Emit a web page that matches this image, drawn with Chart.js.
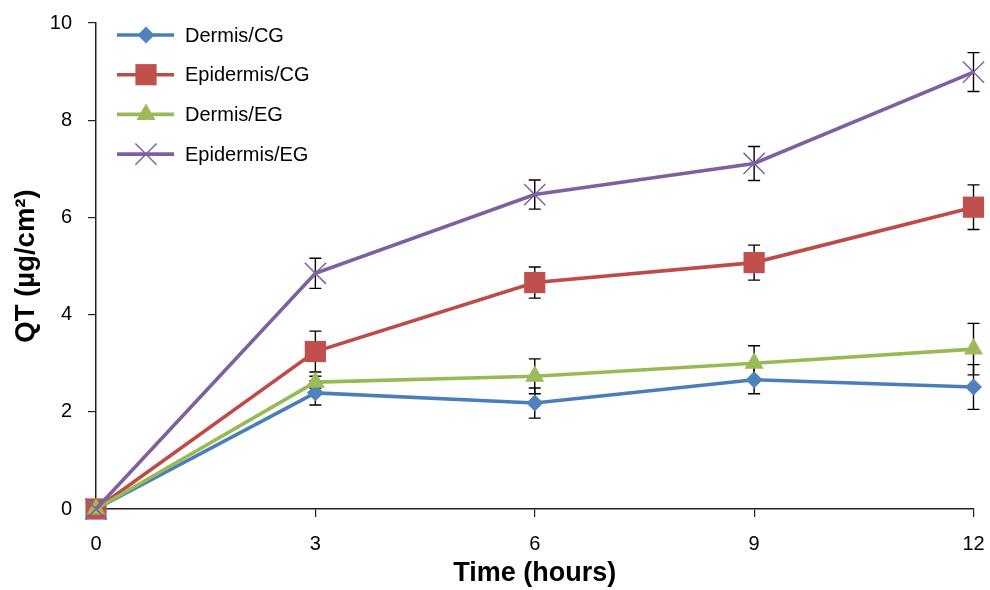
<!DOCTYPE html>
<html>
<head>
<meta charset="utf-8">
<script src="https://cdn.jsdelivr.net/npm/chart.js@4.4.1/dist/chart.umd.min.js"></script>
<style>
  html, body { margin: 0; padding: 0; background: #ffffff; }
  #wrap { width: 990px; height: 590px; position: relative; }
</style>
</head>
<body>
<div id="wrap"><canvas id="c" width="990" height="590"></canvas></div>
<script>
const times = [0, 3, 6, 9, 12];
const seriesLabels = ["Dermis/CG", "Epidermis/CG", "Dermis/EG", "Epidermis/EG"];
const dermisCG = [0, 2.39, 2.18, 2.66, 2.51];
const dermisCGErr = [0, 0.25, 0.31, 0.29, 0.46];
const epidermisCG = [0, 3.24, 4.66, 5.07, 6.21];
const epidermisCGErr = [0, 0.42, 0.32, 0.36, 0.46];
const dermisEG = [0, 2.61, 2.73, 3.00, 3.29];
const dermisEGErr = [0, 0.12, 0.36, 0.36, 0.53];
const epidermisEG = [0, 4.85, 6.47, 7.11, 8.99];
const epidermisEGErr = [0, 0.31, 0.30, 0.35, 0.40];
const xTitle = "Time (hours)";
const yTitle = "QT (µg/cm²)";

const FONT = "'Liberation Sans', Arial, sans-serif";

function pts(vals) { return times.map((t, i) => ({ x: t, y: vals[i] })); }

const errs = [dermisCGErr, epidermisCGErr, dermisEGErr, epidermisEGErr];

const datasets = [
  { label: seriesLabels[0], data: pts(dermisCG), borderColor: '#4A7EBB', backgroundColor: '#4F81BD',
    pointStyle: 'rectRot', pointRadius: 8.5, pointBorderWidth: 0, pointBackgroundColor: '#4F81BD', order: 4 },
  { label: seriesLabels[1], data: pts(epidermisCG), borderColor: '#BE4B48', backgroundColor: '#C0504D',
    pointStyle: 'rect', pointRadius: 15, pointBorderWidth: 0, pointBackgroundColor: '#C0504D', order: 3 },
  { label: seriesLabels[2], data: pts(dermisEG), borderColor: '#98B954', backgroundColor: '#9BBB59',
    pointStyle: 'triangle', pointRadius: 11, pointBorderWidth: 0, pointBackgroundColor: '#9BBB59', order: 2 },
  { label: seriesLabels[3], data: pts(epidermisEG), borderColor: '#7D60A0', backgroundColor: '#8064A2',
    pointStyle: 'crossRot', pointRadius: 15, pointBorderWidth: 1.5, pointBorderColor: '#8064A2', order: 1 }
];
datasets.forEach(d => {
  d.borderWidth = 3.6; d.tension = 0; d.clip = false; d.fill = false;
  d.pointHoverRadius = d.pointRadius;
});

const errorBars = {
  id: 'errorBars',
  beforeDatasetsDraw(chart) {
    const ctx = chart.ctx, xs = chart.scales.x, ys = chart.scales.y;
    ctx.save();
    ctx.strokeStyle = '#000';
    ctx.lineWidth = 1.4;
    chart.data.datasets.forEach((ds, di) => {
      ds.data.forEach((p, i) => {
        const e = errs[di][i];
        if (!e) return;
        const px = xs.getPixelForValue(p.x);
        const top = ys.getPixelForValue(p.y + e);
        const bot = ys.getPixelForValue(p.y - e);
        ctx.beginPath();
        ctx.moveTo(px, top); ctx.lineTo(px, bot);
        ctx.moveTo(px - 6, top); ctx.lineTo(px + 6, top);
        ctx.moveTo(px - 6, bot); ctx.lineTo(px + 6, bot);
        ctx.stroke();
      });
    });
    ctx.restore();
  }
};

const customLegend = {
  id: 'customLegend',
  afterDraw(chart) {
    const ctx = chart.ctx;
    ctx.save();
    chart.data.datasets.forEach((ds, i) => {
      const y = 35 + i * 39.7;
      ctx.strokeStyle = ds.borderColor;
      ctx.lineWidth = 3.6;
      ctx.beginPath(); ctx.moveTo(117, y); ctx.lineTo(174, y); ctx.stroke();
      ctx.fillStyle = ds.pointBackgroundColor || ds.backgroundColor;
      ctx.strokeStyle = ds.pointBorderColor || ds.borderColor;
      ctx.lineWidth = ds.pointBorderWidth;
      Chart.helpers.drawPoint(ctx, { pointStyle: ds.pointStyle, radius: ds.pointRadius, rotation: 0, borderWidth: ds.pointBorderWidth }, 146, y);
      ctx.fillStyle = '#000';
      ctx.font = '20px ' + FONT;
      ctx.textBaseline = 'middle';
      ctx.textAlign = 'left';
      ctx.fillText(ds.label, 185, y + 1);
    });
    ctx.restore();
  }
};

new Chart(document.getElementById('c'), {
  type: 'line',
  data: { datasets },
  options: {
    responsive: false,
    animation: false,
    events: [],
    layout: { padding: { top: 23, right: 13, left: 0, bottom: 0 } },
    plugins: { legend: { display: false }, tooltip: { enabled: false } },
    scales: {
      x: {
        type: 'linear', min: 0, max: 12,
        afterFit(s) { s.height = 81; s.paddingLeft = 0; s.paddingRight = 0; },
        ticks: { stepSize: 3, color: '#000', font: { family: FONT, size: 20 }, padding: 15, maxRotation: 0 },
        grid: { drawOnChartArea: false, drawTicks: true, tickLength: 8, color: '#222', lineWidth: 1.2 },
        border: { display: true, color: '#222', width: 1.5 },
        title: { display: true, text: xTitle, color: '#000', font: { family: FONT, size: 27, weight: 'bold' }, padding: { top: 0, bottom: 0 } }
      },
      y: {
        min: 0, max: 10,
        afterFit(s) { s.width = 96; s.paddingTop = 0; s.paddingBottom = 0; },
        ticks: { stepSize: 2, color: '#000', font: { family: FONT, size: 20 }, padding: 16 },
        grid: { drawOnChartArea: false, drawTicks: true, tickLength: 8, color: '#222', lineWidth: 1.2 },
        border: { display: true, color: '#222', width: 1.5 },
        title: { display: true, text: yTitle, color: '#000', font: { family: FONT, size: 27.5, weight: 'bold' }, padding: { top: 10, bottom: 0 } }
      }
    }
  },
  plugins: [errorBars, customLegend]
});
</script>
</body>
</html>
